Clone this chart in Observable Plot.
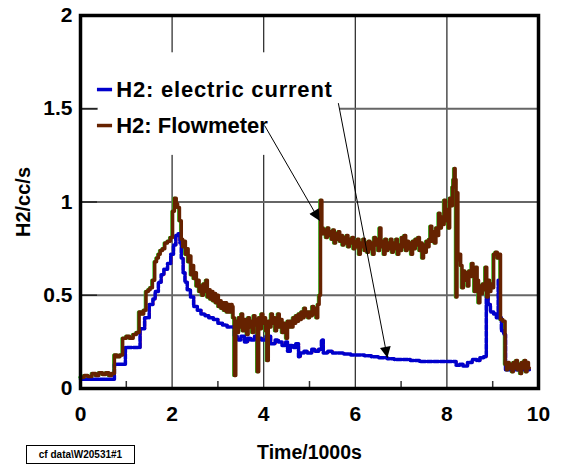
<!DOCTYPE html>
<html>
<head>
<meta charset="utf-8">
<script src="https://cdn.jsdelivr.net/npm/d3@7"></script>
<script src="https://cdn.jsdelivr.net/npm/@observablehq/plot@0.6"></script>
<style>
  html, body { margin: 0; padding: 0; background: #fff; }
  #wrap { position: relative; width: 563px; height: 468px; overflow: hidden; }
  #tag { position: absolute; left: 26px; top: 445px; width: 109px; height: 19px; border: 1px solid #000;
         font: bold 10px "Liberation Sans", Arial, sans-serif; text-align: center; line-height: 18px; box-sizing: border-box; }
</style>
</head>
<body>
<div id="wrap"></div>
<script>
// ---- data ----
const flowTime = [
  0.00,0.08,0.16,0.25,0.33,0.40,0.48,0.55,0.62,0.68,0.74,0.80,0.86,0.92,1.00,1.07,1.15,1.22,1.28,1.34,1.38,1.43,1.48,1.52,1.57,1.62,1.66,1.70,1.74,1.79,1.84,1.90,1.96,2.01,2.05,2.09,2.12,2.16,
  2.20,2.23,2.26,2.29,2.32,2.35,2.38,2.41,2.44,2.47,2.50,2.53,2.56,2.59,2.62,2.65,2.68,2.71,2.74,2.77,2.80,2.83,2.86,2.89,2.92,2.95,2.98,3.01,3.04,3.07,3.10,3.13,3.16,3.19,3.22,3.25,3.28,
  3.31,3.33,3.36,3.39,3.42,3.45,3.48,3.51,3.54,3.57,3.60,3.63,3.66,3.69,3.72,3.75,3.78,3.81,3.84,3.86,3.89,3.92,3.95,3.98,4.01,4.04,4.07,4.10,4.13,4.16,4.19,4.22,4.25,4.28,4.31,4.34,4.37,4.40,4.43,4.46,4.49,4.52,4.55,4.58,4.61,4.64,4.67,4.70,4.73,4.76,4.79,4.82,4.85,4.88,4.91,4.94,4.97,5.00,5.03,5.06,5.09,5.12,5.15,5.18,5.21,5.24,
  5.27,5.30,5.33,5.36,5.39,5.42,5.45,5.48,5.51,5.54,5.57,5.60,5.63,5.66,5.69,5.72,5.75,5.78,5.81,5.84,5.87,5.90,5.93,5.96,5.99,6.02,6.05,6.08,6.11,6.14,6.17,6.20,6.23,6.26,6.29,6.32,6.35,6.38,6.41,6.44,6.47,6.50,6.53,6.56,6.59,6.62,6.65,6.68,6.71,6.74,6.77,6.80,6.83,6.86,6.89,6.92,6.95,6.98,7.01,7.04,7.07,7.10,7.13,7.16,7.19,7.22,7.25,7.28,7.31,7.34,7.37,7.40,7.43,7.46,7.49,7.52,7.55,7.58,7.61,7.64,7.67,7.70,7.73,7.76,7.79,7.82,7.85,7.88,7.91,7.94,7.97,8.00,8.03,8.06,8.09,8.12,8.14,8.16,8.18,8.20,8.22,
  8.24,8.27,8.30,8.33,8.36,8.39,8.42,8.45,8.48,8.51,8.54,8.57,8.60,8.63,8.66,8.69,8.72,8.75,8.78,8.81,8.84,8.87,8.90,8.93,8.96,8.99,9.02,9.06,9.10,9.14,9.17,9.22,
  9.27,9.30,9.33,9.36,9.39,9.42,9.45,9.48,9.51,9.54,9.57,9.60,9.63,9.66,9.69,9.72,9.75,9.78,9.80];
const flowH2 = [
  0.06,0.07,0.065,0.08,0.07,0.085,0.075,0.085,0.07,0.08,0.18,0.17,0.18,0.27,0.28,0.27,0.29,0.30,0.41,0.40,0.42,0.52,0.53,0.54,0.58,0.68,0.70,0.72,0.74,0.75,0.78,0.79,0.81,0.95,1.02,0.99,0.97,0.90,
  0.80,0.76,0.79,0.72,0.75,0.68,0.71,0.61,0.66,0.59,0.62,0.55,0.58,0.52,0.55,0.50,0.56,0.52,0.58,0.49,0.53,0.48,0.52,0.47,0.51,0.46,0.50,0.44,0.47,0.43,0.46,0.42,0.46,0.41,0.45,0.41,0.45,
  0.44,0.38,0.07,0.36,0.30,0.38,0.33,0.40,0.31,0.37,0.34,0.29,0.38,0.33,0.36,0.30,0.39,0.34,0.37,0.09,0.38,0.32,0.40,0.35,0.38,0.31,0.15,0.36,0.33,0.40,0.35,0.38,0.31,0.37,0.40,0.33,0.37,0.30,0.35,0.32,0.27,0.36,0.33,0.36,0.33,0.38,0.35,0.39,0.36,0.40,0.37,0.41,0.38,0.43,0.39,0.41,0.38,0.41,0.39,0.44,0.40,0.43,0.38,0.45,0.50,1.01,
  0.86,0.83,0.85,0.81,0.86,0.82,0.84,0.80,0.85,0.78,0.83,0.80,0.84,0.79,0.82,0.77,0.81,0.78,0.82,0.76,0.80,0.78,0.81,0.75,0.79,0.76,0.80,0.72,0.78,0.76,0.80,0.74,0.78,0.73,0.79,0.75,0.78,0.72,0.81,0.77,0.80,0.74,0.86,0.76,0.79,0.72,0.80,0.74,0.78,0.75,0.80,0.73,0.78,0.75,0.80,0.72,0.77,0.74,0.81,0.76,0.82,0.74,0.79,0.75,0.78,0.72,0.79,0.75,0.80,0.77,0.81,0.74,0.78,0.70,0.77,0.73,0.79,0.76,0.80,0.87,0.79,0.84,0.78,0.86,0.82,0.94,0.86,0.92,0.88,1.01,0.90,0.96,0.86,1.02,0.98,1.08,1.12,1.18,1.12,0.49,1.05,
  0.69,0.72,0.66,0.54,0.63,0.58,0.62,0.55,0.63,0.60,0.67,0.62,0.52,0.65,0.58,0.46,0.55,0.51,0.56,0.53,0.65,0.49,0.58,0.52,0.56,0.54,0.72,0.73,0.70,0.72,0.37,0.36,
  0.13,0.10,0.14,0.11,0.13,0.09,0.14,0.11,0.15,0.10,0.13,0.08,0.14,0.11,0.15,0.09,0.14,0.11,0.11];

const currentTime = [0.00,0.74,0.98,1.30,1.40,1.50,1.58,1.63,1.70,1.76,1.82,1.90,1.97,2.03,2.08,2.13,2.17,2.20,2.24,2.28,2.33,2.40,2.47,2.55,2.63,2.72,2.80,2.90,3.00,3.10,3.20,3.30,3.36,3.42,3.50,3.58,3.65,3.72,3.80,3.88,3.95,4.05,4.15,4.25,4.32,4.40,4.48,4.52,4.58,4.65,4.70,4.76,4.80,4.88,4.95,5.05,5.12,5.20,5.26,5.30,5.40,5.50,5.60,5.75,5.90,6.05,6.20,6.35,6.50,6.70,6.85,7.00,7.20,7.40,7.60,7.80,7.95,8.10,8.20,8.28,8.35,8.45,8.55,8.65,8.72,8.80,8.86,8.90,8.95,9.02,9.08,9.12,9.15,9.19,9.24,9.28,9.80];
const currentH2 = [0.05,0.13,0.22,0.32,0.38,0.45,0.48,0.52,0.57,0.61,0.64,0.67,0.72,0.77,0.82,0.83,0.78,0.70,0.62,0.57,0.53,0.49,0.44,0.42,0.40,0.39,0.38,0.37,0.35,0.34,0.33,0.33,0.28,0.26,0.28,0.25,0.27,0.26,0.28,0.27,0.26,0.28,0.24,0.26,0.25,0.23,0.25,0.20,0.23,0.22,0.24,0.17,0.19,0.20,0.19,0.21,0.20,0.21,0.26,0.19,0.20,0.19,0.19,0.185,0.18,0.18,0.175,0.17,0.165,0.16,0.155,0.155,0.15,0.145,0.145,0.145,0.145,0.145,0.125,0.13,0.12,0.14,0.155,0.15,0.165,0.17,0.49,0.45,0.41,0.40,0.38,0.58,0.38,0.31,0.29,0.10,0.10];

const seriesNames = ["H2: electric current", "H2: Flowmeter"];
const xTicks = [0, 2, 4, 6, 8, 10];
const xMinorTicks = [1, 3, 5, 7, 9];
const yTicks = [0, 0.5, 1, 1.5, 2];
const xLabel = "Time/1000s";
const yLabel = "H2/cc/s";
const tagText = "cf data\\W20531#1";
// annotation arrows: from legend text to the curves (data units)
const arrowFrom = [{x: 5.63, y: 1.53}, {x: 4.02, y: 1.41}];
const arrowTo   = [{x: 6.70, y: 0.165}, {x: 5.22, y: 0.90}];

// ---- build tables ----
const flow = flowTime.map((t, i) => ({t, v: flowH2[i]}));
const current = currentTime.map((t, i) => ({t, v: currentH2[i]}));
const arrows = arrowFrom.map((a, i) => ({x1: a.x, y1: a.y, x2: arrowTo[i].x, y2: arrowTo[i].y}));

const BROWN = "#662200", BLUE = "#0000cc";
const legendBox = [{x1: 0.39, x2: 5.66, y1: 1.25, y2: 1.80}];
const legendRows = [
  {name: seriesNames[0], y: 1.603, color: BLUE, dash: "4,3"},
  {name: seriesNames[1], y: 1.41, color: BROWN, dash: null}
];

const plot = Plot.plot({
  width: 563, height: 468,
  marginLeft: 80, marginRight: 25, marginTop: 15, marginBottom: 80,
  x: {domain: [0, 10]},
  y: {domain: [0, 2]},
  style: {fontFamily: "'Liberation Sans', Arial, sans-serif", fontWeight: "bold", background: "white", color: "black"},
  marks: [
    Plot.gridX([2, 4, 6, 8], {stroke: "#222", strokeOpacity: 1, strokeWidth: 1.2}),
    Plot.gridY([0.5, 1, 1.5], {stroke: "#666", strokeOpacity: 1, strokeWidth: 2}),
    Plot.rect(legendBox, {x1: "x1", x2: "x2", y1: "y1", y2: "y2", fill: "white"}),
    Plot.ruleX(xMinorTicks, {stroke: "#333", strokeWidth: 1.5, insetTop: 366}),
    Plot.ruleY(yTicks, {stroke: "#222", strokeWidth: 1.5, insetRight: 441}),
    Plot.axisX(xTicks, {tickSize: 0, tickPadding: 18, fontSize: 21, label: null, tickFormat: d => String(d)}),
    Plot.axisY(yTicks, {tickSize: 0, tickPadding: 8, fontSize: 21, label: null, tickFormat: d => String(d)}),
    Plot.text([xLabel], {frameAnchor: "bottom", dy: 70, fontSize: 19.5, fontWeight: "bold", textAnchor: "middle"}),
    Plot.text([yLabel], {frameAnchor: "left", dx: -57, rotate: -90, fontSize: 20, fontWeight: "bold", textAnchor: "middle"}),
    // faint companion traces
    Plot.line(flow, {x: "t", y: "v", curve: "step-after", stroke: "#22dd22", strokeWidth: 3, dx: -0.8}),
    Plot.line(current, {x: "t", y: "v", curve: "step-after", stroke: "#ee0000", strokeWidth: 2, dx: 0.6}),
    Plot.line(current, {x: "t", y: "v", curve: "step-after", stroke: BLUE, strokeWidth: 3.5, strokeDasharray: "5,1.5"}),
    Plot.line(flow, {x: "t", y: "v", curve: "step-after", stroke: BROWN, strokeWidth: 3.5}),
    // legend
    Plot.ruleY(legendRows, {y: "y", x1: 0.37, x2: 0.70, stroke: "color", strokeWidth: 3.5, strokeDasharray: d => d.dash}),
    Plot.text(legendRows, {x: 0.78, y: "y", text: "name", textAnchor: "start", fontSize: 22, fontWeight: "bold"}),
    Plot.link(arrows, {x1: "x1", y1: "y1", x2: "x2", y2: "y2", stroke: "black", strokeWidth: 1}),
    Plot.frame({stroke: "black", strokeWidth: 3.5})
  ]
});

const svg = d3.select(plot);
// spread the first legend label like the reference
svg.selectAll("text").filter(function () { return this.textContent === seriesNames[0]; })
  .style("letter-spacing", "0.8px");
// filled arrowheads
const defs = svg.append("defs");
defs.append("marker").attr("id", "ahead").attr("viewBox", "0 0 10 10")
  .attr("refX", 10).attr("refY", 5).attr("markerUnits", "userSpaceOnUse")
  .attr("markerWidth", 15).attr("markerHeight", 11).attr("orient", "auto")
  .append("path").attr("d", "M0,0L10,5L0,10Z").attr("fill", "black");
svg.selectAll('g[aria-label="link"] path').attr("marker-end", "url(#ahead)");

const wrap = document.getElementById("wrap");
wrap.appendChild(plot);
const tag = document.createElement("div");
tag.id = "tag";
tag.textContent = tagText;
wrap.appendChild(tag);
</script>
</body>
</html>
